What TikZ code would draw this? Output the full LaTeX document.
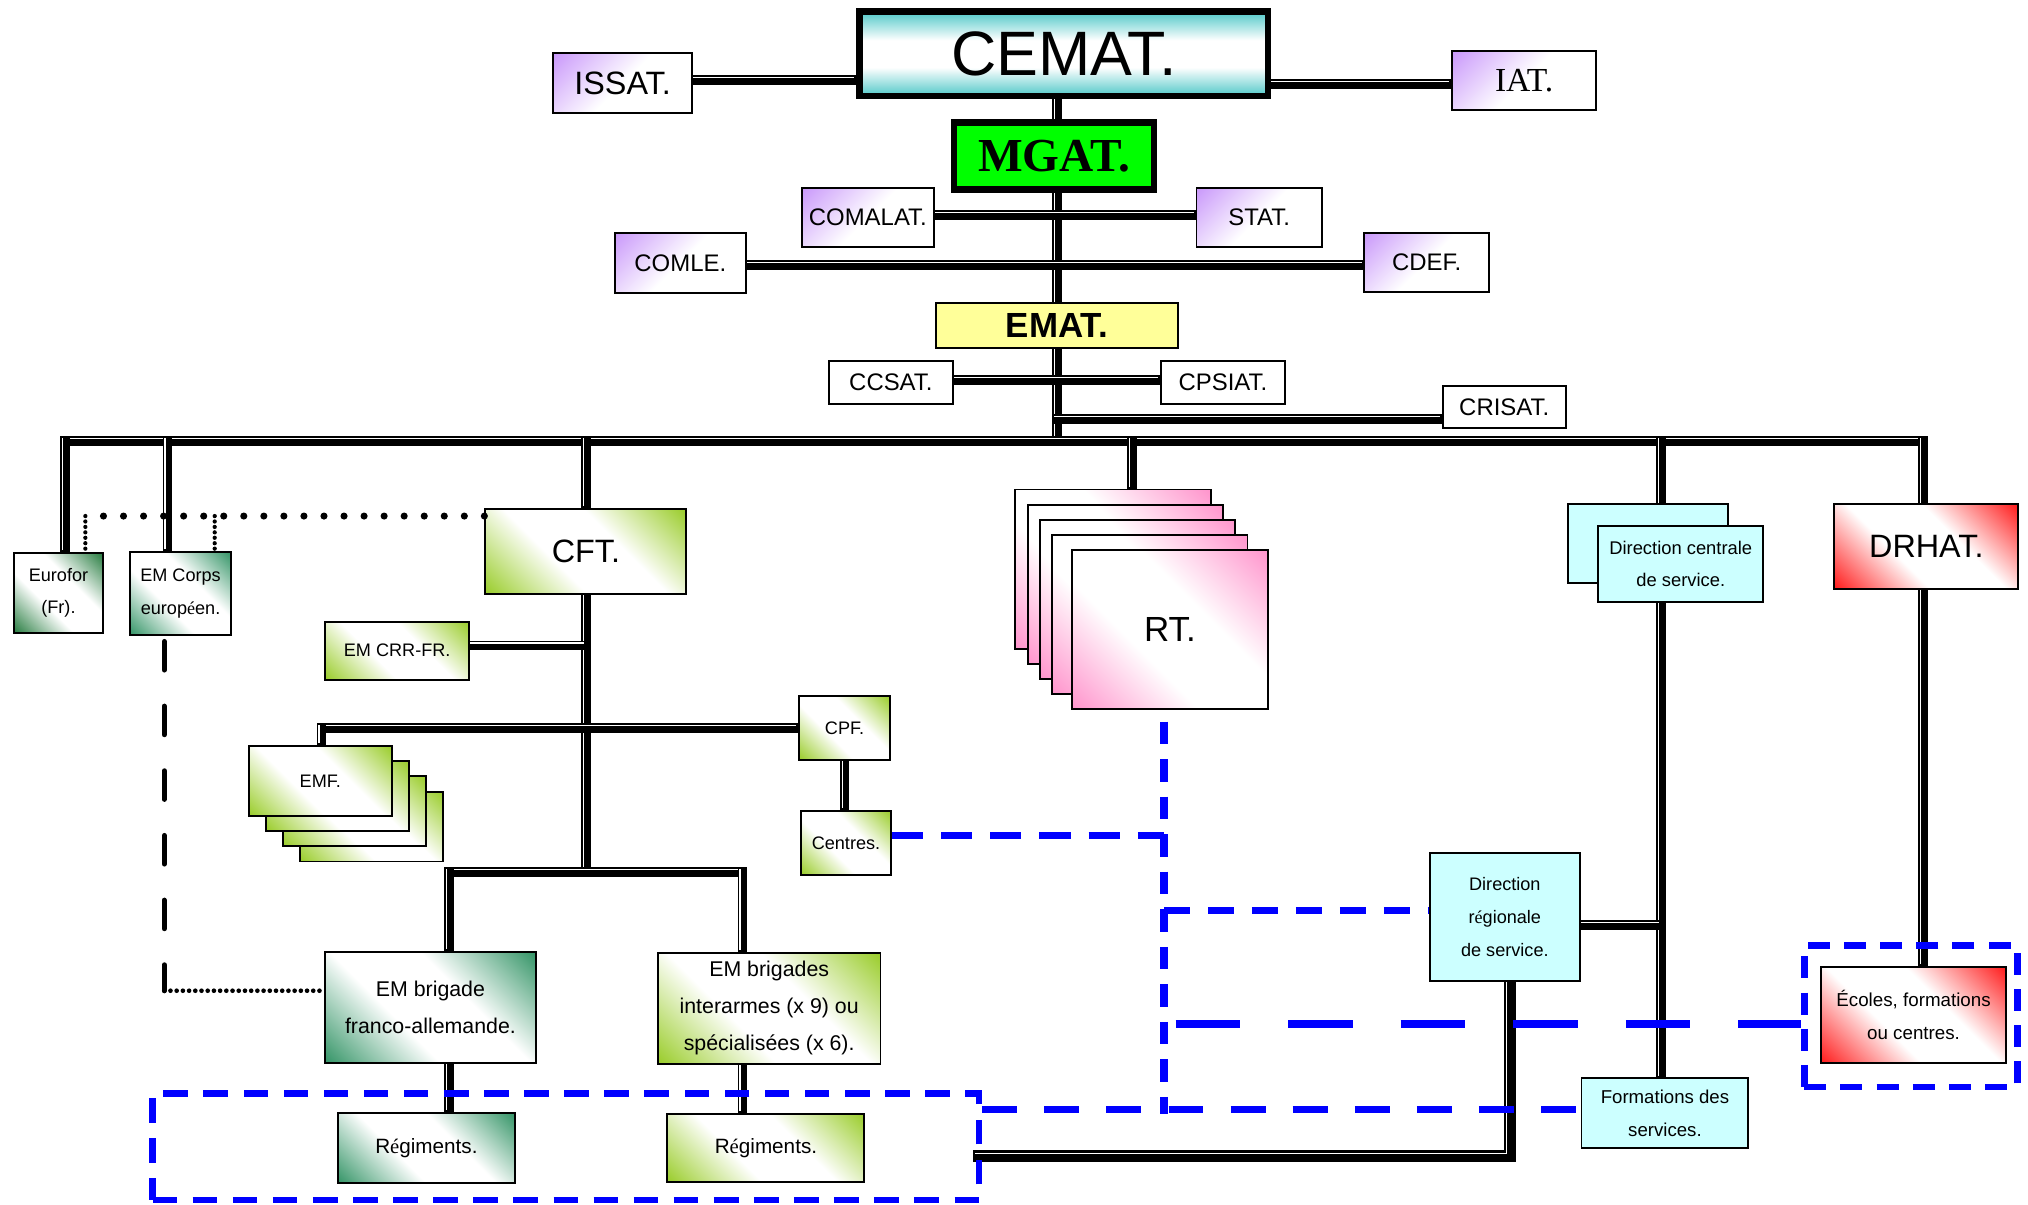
\documentclass[tikz,border=0pt]{standalone}
\usepackage{graphicx}
\usepackage{fontspec}
\setmainfont{Liberation Sans}
\newfontfamily\tnr{Liberation Serif}
\usetikzlibrary{calc}
\pgfdeclarelayer{bg}
\pgfsetlayers{bg,main}
\definecolor{purp}{RGB}{200,150,250}
\definecolor{teal1}{RGB}{80,200,200}
\definecolor{lgreen}{RGB}{155,205,45}
\definecolor{dgreen}{RGB}{55,150,105}
\definecolor{egreen}{RGB}{40,125,65}
\definecolor{pink1}{RGB}{255,150,205}
\definecolor{red1}{RGB}{255,30,30}
\definecolor{cyan1}{RGB}{204,255,255}
\definecolor{yell1}{RGB}{255,255,153}
\definecolor{mgreen}{RGB}{0,255,0}
\definecolor{blue1}{RGB}{0,0,255}
\pgfdeclareverticalshading{shG}{100bp}{color(0bp)=(lgreen); color(15bp)=(lgreen); color(40bp)=(white); color(60bp)=(white); color(85bp)=(lgreen); color(100bp)=(lgreen)}
\pgfdeclareverticalshading{shD}{100bp}{color(0bp)=(dgreen); color(15bp)=(dgreen); color(40bp)=(white); color(60bp)=(white); color(85bp)=(dgreen); color(100bp)=(dgreen)}
\pgfdeclareverticalshading{shE}{100bp}{color(0bp)=(egreen); color(15bp)=(egreen); color(40bp)=(white); color(60bp)=(white); color(85bp)=(egreen); color(100bp)=(egreen)}
\pgfdeclareverticalshading{shK}{100bp}{color(0bp)=(pink1); color(15bp)=(pink1); color(40bp)=(white); color(60bp)=(white); color(85bp)=(pink1); color(100bp)=(pink1)}
\pgfdeclareverticalshading{shR}{100bp}{color(0bp)=(red1); color(15bp)=(red1); color(40bp)=(white); color(60bp)=(white); color(85bp)=(red1); color(100bp)=(red1)}
\pgfdeclareverticalshading{shP}{100bp}{color(0bp)=(white); color(50bp)=(white); color(86bp)=(purp); color(100bp)=(purp)}
\pgfdeclareverticalshading{shT}{100bp}{color(0bp)=(teal1); color(25bp)=(teal1); color(42bp)=(white); color(58bp)=(white); color(75bp)=(teal1); color(100bp)=(teal1)}
\newcommand\fs[2]{\fontsize{#1}{#2}\selectfont}
\newcommand\se{{\tnr é}}
\begin{document}
\begin{tikzpicture}[x=1pt,y=-1pt,
  sz/.style 2 args={minimum width=#1pt, minimum height=#2pt},
  box/.style={draw=black, line width=1.5pt, inner sep=0pt, align=center},
  purpbox/.style={box, shade, shading=shP, shading angle=45},
  lgbox/.style={box, shade, shading=shG, shading angle=-45},
  dgbox/.style={box, shade, shading=shD, shading angle=-45},
  egbox/.style={box, shade, shading=shE, shading angle=-45},
  pinkbox/.style={box, shade, shading=shK, shading angle=-45},
  redbox/.style={box, shade, shading=shR, shading angle=-45},
  cyanbox/.style={box, fill=cyan1},
  whitebox/.style={box, fill=white},
  conn/.style={draw=black, line width=7.5pt, line cap=rect,
    postaction={draw=white, line width=0.9pt, transform canvas={xshift=-1.9pt, yshift=1.9pt}}},
  connthick/.style={draw=black, line width=9pt, line cap=rect, line join=miter,
    postaction={draw=white, line width=1pt, transform canvas={xshift=-2.4pt, yshift=2.4pt}}},
  bline/.style={draw=blue1, line width=5.5pt},
  dotbig/.style={draw=black, line width=5.5pt, line cap=round, dash pattern=on 0pt off 15.5pt},
  dotsmall/.style={draw=black, line width=3.3pt, line cap=round, dash pattern=on 0pt off 4.2pt},
  dotdense/.style={draw=black, line width=3.6pt, line cap=round, dash pattern=on 0pt off 4.8pt},
  ovdash/.style={draw=black, line width=4pt, line cap=round, dash pattern=on 22pt off 28pt},
]
\useasboundingbox (0,0) rectangle (1568,931);
\begin{pgfonlayer}{bg}
\fill[white] (0,0) rectangle (1568,931);
\end{pgfonlayer}

% ---------- nodes ----------
\node[box, line width=5pt, shade, shading=shT, sz={316}{65.4}, font=\fs{48.5}{55}] (CEMAT) at (822.5,41.6) {CEMAT.};
\node[purpbox, sz={107}{46.5}, font=\fs{25}{28}] (ISSAT) at (481.4,64.4) {ISSAT.};
\node[purpbox, sz={111.3}{45.6}, font=\tnr\fs{26}{28}] (IAT) at (1178.4,62.3) {IAT.};
\node[box, line width=5pt, fill=mgreen, sz={154.5}{51.8}, font=\tnr\bfseries\fs{36.6}{40}] (MGAT) at (815,120.6) {MGAT.};
\node[purpbox, sz={102.5}{46.2}, font=\fs{18.5}{21}] (COMALAT) at (671,168.2) {COMALAT.};
\node[purpbox, sz={96.8}{46.2}, font=\fs{18.5}{21}] (STAT) at (973.5,168.2) {STAT.};
\node[purpbox, sz={101}{46.7}, font=\fs{18.5}{21}] (COMLE) at (526,203.2) {COMLE.};
\node[purpbox, sz={96.2}{45.7}, font=\fs{18.5}{21}] (CDEF) at (1103,202.7) {CDEF.};
\node[box, fill=yell1, sz={187.3}{34.8}, font=\bfseries\fs{27}{30}] (EMAT) at (817.2,251.9) {EMAT.};
\node[whitebox, sz={96.1}{33}, font=\fs{18.5}{21}] (CCSAT) at (688.8,295.8) {CCSAT.};
\node[whitebox, sz={95.6}{33}, font=\fs{18.5}{21}] (CPSIAT) at (945.5,295.8) {CPSIAT.};
\node[whitebox, sz={95.2}{33}, font=\fs{18.5}{21}] (CRISAT) at (1163,314.7) {CRISAT.};

\node[egbox, sz={69.4}{62.2}, font=\fs{14}{25}] (Eurofor) at (45.2,458.4) {Eurofor\\(Fr).};
\node[dgbox, sz={78.2}{64.2}, font=\fs{14}{25}] (EMCorps) at (139.6,458.9) {EM Corps\\europ\se en.};
\node[lgbox, sz={155.5}{65.5}, font=\fs{25}{28}] (CFT) at (453,426.5) {CFT.};
\node[lgbox, sz={111.1}{44.9}, font=\fs{14}{17}] (EMCRR) at (307.1,503.1) {EM CRR-FR.};

\node[lgbox, sz={110.7}{54}] (emf4) at (287.3,639.1) {};
\node[lgbox, sz={110.7}{54}] (emf3) at (274.1,627.3) {};
\node[lgbox, sz={110.7}{54}] (emf2) at (260.9,615.5) {};
\node[lgbox, sz={110.7}{54}, font=\fs{14}{17}] (emf1) at (247.7,603.7) {EMF.};

\node[lgbox, sz={70}{49.5}, font=\fs{14}{17}] (CPF) at (653,562.9) {CPF.};
\node[lgbox, sz={69.7}{49.2}, font=\fs{14}{17}] (Centres) at (654.1,651.7) {Centres.};
\node[dgbox, sz={163}{85.8}, font=\fs{16.5}{29}] (EMBFA) at (332.8,779) {EM brigade\\franco-allemande.};
\node[lgbox, sz={172.1}{86.1}, font=\fs{16.5}{28.5}] (EMBI) at (594.7,779.6) {EM brigades\\interarmes (x 9) ou\\spécialisées (x 6).};
\node[dgbox, sz={137.2}{53.9}, font=\fs{16}{19}] (Reg1) at (329.7,887.7) {R\se giments.};
\node[lgbox, sz={152.3}{53.1}, font=\fs{16}{19}] (Reg2) at (592.2,887.6) {R\se giments.};

\node[pinkbox, sz={151}{123.3}] (rt1) at (860.5,440.1) {};
\node[pinkbox, sz={151}{123.3}] (rt2) at (870.2,451.8) {};
\node[pinkbox, sz={151}{123.3}] (rt3) at (879.5,463.4) {};
\node[pinkbox, sz={151}{123.3}] (rt4) at (889,475.2) {};
\node[pinkbox, sz={151}{123.3}, font=\fs{27}{30}] (RT) at (904.6,486.8) {RT.};

\node[cyanbox, sz={124.2}{60.9}] (DCb) at (1274.2,420.3) {};
\node[cyanbox, sz={127.6}{59.1}, font=\fs{14.2}{24.5}] (DC) at (1299.5,436.2) {Direction centrale\\de service.};
\node[redbox, sz={142.3}{65.6}, font=\fs{25}{28}] (DRHAT) at (1489.4,422.7) {DRHAT.};
\node[cyanbox, sz={115.5}{99}, font=\fs{14}{25.5}] (DR) at (1163.5,708.8) {Direction\\r\se gionale\\de service.};
\node[cyanbox, sz={129.1}{53.5}, font=\fs{14.4}{25.5}] (Form) at (1287.3,860.5) {Formations des\\services.};
\node[redbox, sz={143.5}{74.6}, font=\fs{14.5}{25.5}] (Ecoles) at (1479.5,784.7) {Écoles, formations\\ou centres.};

% group boxes (blue dashed)
\node[draw=blue1, line width=5pt, dash pattern=on 19pt off 12pt, inner sep=0pt, sz={639}{82.3}] (RegG) at (437.5,886.6) {};
\node[draw=blue1, line width=5pt, dash pattern=on 17pt off 11pt, inner sep=0pt, sz={165}{109.6}] (EcG) at (1477.5,785.8) {};

% ---------- level coordinates ----------
\coordinate (yIS) at (0,62);
\coordinate (yIA) at (0,65);
\coordinate (yCS) at (0,166.5);
\coordinate (yCD) at (0,205);
\coordinate (yCC) at (0,293.8);
\coordinate (yCR) at (0,323.8);
\coordinate (yBus) at (0,341);
\coordinate (yCRR) at (0,499);
\coordinate (yEMF) at (0,562.6);
\coordinate (yBr) at (0,674.3);
\coordinate (yDR) at (0,715);
\coordinate (yBot) at (0,894);
\coordinate (xTr) at (817,0);
\coordinate (xEuro) at (50,0);
\coordinate (xEMC) at (129.5,0);
\coordinate (xCFT) at (453,0);
\coordinate (xRT) at (875,0);
\coordinate (xDC) at (1284.4,0);
\coordinate (xDRH) at (1487,0);
\coordinate (xEMFd) at (248.6,0);
\coordinate (xBF) at (347,0);
\coordinate (xBI) at (574,0);
\coordinate (xCP) at (653,0);
\coordinate (xDRv) at (1167.3,0);
\coordinate (botL) at (757,894);

% ---------- black connectors ----------
\begin{pgfonlayer}{bg}
\draw[conn] (ISSAT.east |- yIS) -- (CEMAT.west |- yIS);
\draw[conn] (CEMAT.east |- yIA) -- (IAT.west |- yIA);
\draw[conn] (CEMAT.south -| xTr) -- (xTr |- yBus);
\draw[conn] (COMALAT.east |- yCS) -- (STAT.west |- yCS);
\draw[conn] (COMLE.east |- yCD) -- (CDEF.west |- yCD);
\draw[conn] (CCSAT.east |- yCC) -- (CPSIAT.west |- yCC);
\draw[conn] (xTr |- yCR) -- (CRISAT.west |- yCR);
\draw[conn] (xEuro |- yBus) -- (xDRH |- yBus);
\draw[conn] (xEuro |- yBus) -- (Eurofor.north -| xEuro);
\draw[conn] (xEMC |- yBus) -- (EMCorps.north -| xEMC);
\draw[conn] (xCFT |- yBus) -- (CFT.north);
\draw[conn] (xRT |- yBus) -- (rt1.north -| xRT);
\draw[conn] (xDC |- yBus) -- (Form.north -| xDC);
\draw[conn] (xDRH |- yBus) -- (Ecoles.north -| xDRH);
\draw[conn] (CFT.south) -- (xCFT |- yBr);
\draw[conn] (EMCRR.east |- yCRR) -- (xCFT |- yCRR);
\draw[conn] (xEMFd |- yEMF) -- (CPF.west |- yEMF);
\draw[conn] (xEMFd |- yEMF) -- (emf1.north -| xEMFd);
\draw[conn] (CPF.south -| xCP) -- (Centres.north -| xCP);
\draw[conn] (xBF |- yBr) -- (xBI |- yBr);
\draw[conn] (xBF |- yBr) -- (EMBFA.north -| xBF);
\draw[conn] (xBI |- yBr) -- (EMBI.north -| xBI);
\draw[conn] (EMBFA.south -| xBF) -- (Reg1.north -| xBF);
\draw[conn] (EMBI.south -| xBI) -- (Reg2.north -| xBI);
\draw[conn] (DR.east |- yDR) -- (xDC |- yDR);
\draw[connthick] (DR.south -| xDRv) -- (xDRv |- yBot) -- (botL);
\end{pgfonlayer}

% ---------- blue dashed connectors ----------
\coordinate (rtb) at (900,558);
\coordinate (cj) at (900,646);
\coordinate (vb) at (900,861);
\coordinate (drj) at (900,704);
\coordinate (ldS) at (909,792);
\coordinate (yF) at (0,857.5);
\draw[bline, dash pattern=on 24pt off 14pt] (Centres.east |- cj) -- (cj);
\draw[bline, dash pattern=on 17.5pt off 11.5pt] (rtb) -- (vb);
\draw[bline, dash pattern=on 20pt off 14pt] (drj) -- (DR.west |- drj);
\draw[bline, line width=6pt, dash pattern=on 50pt off 37pt] (ldS) -- (EcG.west |- ldS);
\draw[bline, dash pattern=on 27pt off 21pt] (RegG.east |- yF) -- (Form.west |- yF);

% ---------- dotted connectors ----------
\coordinate (dotL) at (66,399);
\coordinate (dotM) at (166,399);
\draw[dotbig] (CFT.west |- dotL) -- (dotL);
\draw[dotsmall] (dotL) -- (Eurofor.north -| dotL);
\draw[dotsmall] (dotM) -- (EMCorps.north -| dotM);
\coordinate (ec1) at (127,496);
\coordinate (ec2) at (127,766);
\draw[ovdash] (ec1) -- (ec2);
\draw[dotdense] (ec2) -- (EMBFA.west |- ec2);
\end{tikzpicture}
\end{document}
